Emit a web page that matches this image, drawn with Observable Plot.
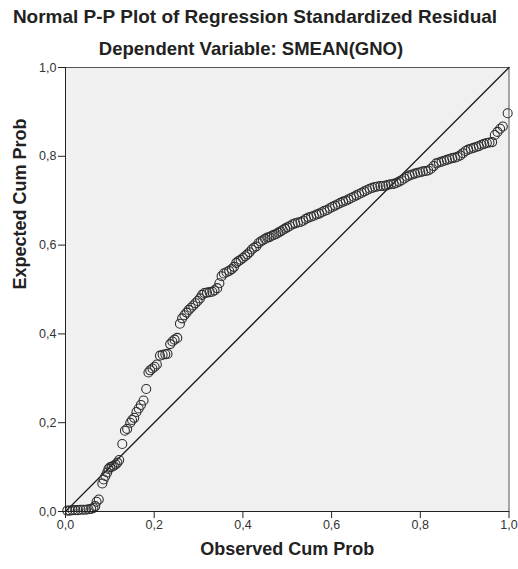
<!DOCTYPE html>
<html>
<head>
<meta charset="utf-8">
<script src="https://cdn.jsdelivr.net/npm/d3@7"></script>
<script src="https://cdn.jsdelivr.net/npm/@observablehq/plot@0.6"></script>
<style>
  body { margin: 0; background: #fff; font-family: "Liberation Sans", Arial, sans-serif; }
  #wrap { position: relative; width: 518px; height: 569px; }
  .title { position: absolute; width: 518px; text-align: center; font-weight: bold; color: #222; white-space: nowrap; line-height: 22px; }
  #t1 { top: 6px; font-size: 19px; left: -4px; }
  #t2 { top: 38px; font-size: 18.5px; left: -8px; }
  #chart { position: absolute; left: 0; top: 0; }
</style>
</head>
<body>
<div id="wrap">
  <div id="chart"></div>
  <div class="title" id="t1"></div>
  <div class="title" id="t2"></div>
</div>
<script>
const titleText = "Normal P-P Plot of Regression Standardized Residual";
const subtitleText = "Dependent Variable: SMEAN(GNO)";
const xLabel = "Observed Cum Prob";
const yLabel = "Expected Cum Prob";
const tickValues = [0, 0.2, 0.4, 0.6, 0.8, 1.0];
const diagonal = [0, 1];

const observed = [
  0.004,0.010,0.016,0.022,0.028,0.034,0.040,0.046,0.052,0.058,0.063,0.067,0.070,0.075,
  0.083,0.086,0.090,0.094,0.097,0.101,0.105,0.109,0.113,0.117,0.121,0.128,0.134,0.139,
  0.146,0.150,0.155,0.160,0.165,0.170,0.176,0.182,0.187,0.191,0.196,0.201,0.206,0.213,
  0.219,0.225,0.230,0.236,0.241,0.246,0.252,0.258,0.263,0.268,0.273,0.278,0.283,0.288,
  0.293,0.298,0.303,0.308,0.313,0.319,0.325,0.331,0.336,0.342,0.347,0.352,0.357,0.363,
  0.369,0.375,0.380,0.385,0.390,0.395,0.400,0.405,0.410,0.415,0.420,0.425,0.430,0.435,
  0.440,0.445,0.450,0.455,0.460,0.465,0.470,0.475,0.480,0.485,0.490,0.495,0.500,0.506,
  0.512,0.518,0.524,0.530,0.536,0.542,0.548,0.554,0.560,0.566,0.572,0.578,0.584,0.590,
  0.596,0.602,0.608,0.614,0.620,0.626,0.632,0.638,0.644,0.650,0.656,0.662,0.668,0.674,
  0.680,0.686,0.692,0.698,0.704,0.710,0.716,0.722,0.728,0.734,0.740,0.746,0.752,0.758,
  0.764,0.770,0.776,0.782,0.788,0.794,0.800,0.806,0.812,0.818,0.824,0.830,0.836,0.842,
  0.848,0.854,0.860,0.866,0.872,0.878,0.884,0.890,0.896,0.902,0.908,0.914,0.920,0.926,
  0.932,0.938,0.944,0.950,0.956,0.962,0.968,0.974,0.980,0.986,0.997
];
const expected = [
  0.002,0.002,0.003,0.003,0.003,0.004,0.004,0.004,0.005,0.006,0.008,0.012,0.022,0.027,
  0.063,0.072,0.080,0.088,0.096,0.100,0.101,0.103,0.106,0.110,0.116,0.152,0.182,0.186,
  0.200,0.206,0.211,0.224,0.232,0.240,0.250,0.276,0.313,0.318,0.322,0.326,0.331,0.351,
  0.353,0.354,0.355,0.377,0.383,0.387,0.391,0.423,0.435,0.442,0.448,0.454,0.459,0.464,
  0.469,0.474,0.480,0.488,0.492,0.493,0.494,0.495,0.498,0.503,0.514,0.530,0.536,0.539,
  0.542,0.546,0.551,0.560,0.564,0.567,0.571,0.575,0.579,0.584,0.590,0.594,0.597,0.604,
  0.608,0.611,0.614,0.617,0.618,0.621,0.623,0.625,0.628,0.631,0.634,0.637,0.640,0.643,
  0.647,0.649,0.651,0.652,0.655,0.659,0.662,0.664,0.666,0.669,0.671,0.674,0.677,0.679,
  0.683,0.686,0.689,0.692,0.695,0.698,0.700,0.703,0.706,0.709,0.712,0.715,0.718,0.721,
  0.724,0.727,0.729,0.731,0.732,0.733,0.733,0.734,0.736,0.737,0.738,0.740,0.743,0.746,
  0.750,0.754,0.757,0.759,0.761,0.763,0.764,0.766,0.767,0.768,0.772,0.778,0.784,0.786,
  0.788,0.790,0.792,0.794,0.796,0.797,0.799,0.802,0.807,0.812,0.815,0.817,0.819,0.821,
  0.823,0.826,0.828,0.830,0.831,0.832,0.848,0.855,0.862,0.867,0.897
];

document.getElementById("t1").textContent = titleText;
document.getElementById("t2").textContent = subtitleText;

const points = observed.map((x, i) => ({x, y: expected[i]}));
const fmt = d => d.toFixed(1).replace(".", ",");

const chart = Plot.plot({
  width: 518,
  height: 569,
  marginTop: 67,
  marginLeft: 65,
  marginRight: 9.5,
  marginBottom: 58,
  style: { fontFamily: "Liberation Sans, Arial, sans-serif", fontSize: "12.5px", color: "#333", background: "transparent" },
  x: { domain: [0, 1], ticks: tickValues, tickFormat: fmt, label: null },
  y: { domain: [0, 1], ticks: tickValues, tickFormat: fmt, label: null },
  marks: [
    Plot.frame({ fill: "#f0f0f0", stroke: "#555" }),
    Plot.line(diagonal, { x: d => d, y: d => d, stroke: "#1a1a1a", strokeWidth: 1.3 }),
    Plot.dot(points, { x: "x", y: "y", r: 4.5, stroke: "#2e2e2e", strokeWidth: 1.1, fill: "none" }),
    Plot.axisX({ ticks: tickValues, tickFormat: fmt, tickSize: 7, tickPadding: 2, stroke: "#222", label: null, fill: "#333", fontSize: 12.5 }),
    Plot.axisY({ ticks: tickValues, tickFormat: fmt, tickSize: 7, tickPadding: 2, stroke: "#222", label: null, fill: "#333", fontSize: 12.5 }),
    Plot.ruleX([0], { stroke: "#222" }),
    Plot.ruleY([0], { stroke: "#222" }),
    Plot.text([xLabel], { text: d => d, frameAnchor: "bottom", dy: 43, fontWeight: "bold", fontSize: 18, fill: "#222" }),
    Plot.text([yLabel], { text: d => d, frameAnchor: "left", rotate: -90, dx: -45, fontWeight: "bold", fontSize: 18, fill: "#222" })
  ]
});
document.getElementById("chart").appendChild(chart);
</script>
</body>
</html>
